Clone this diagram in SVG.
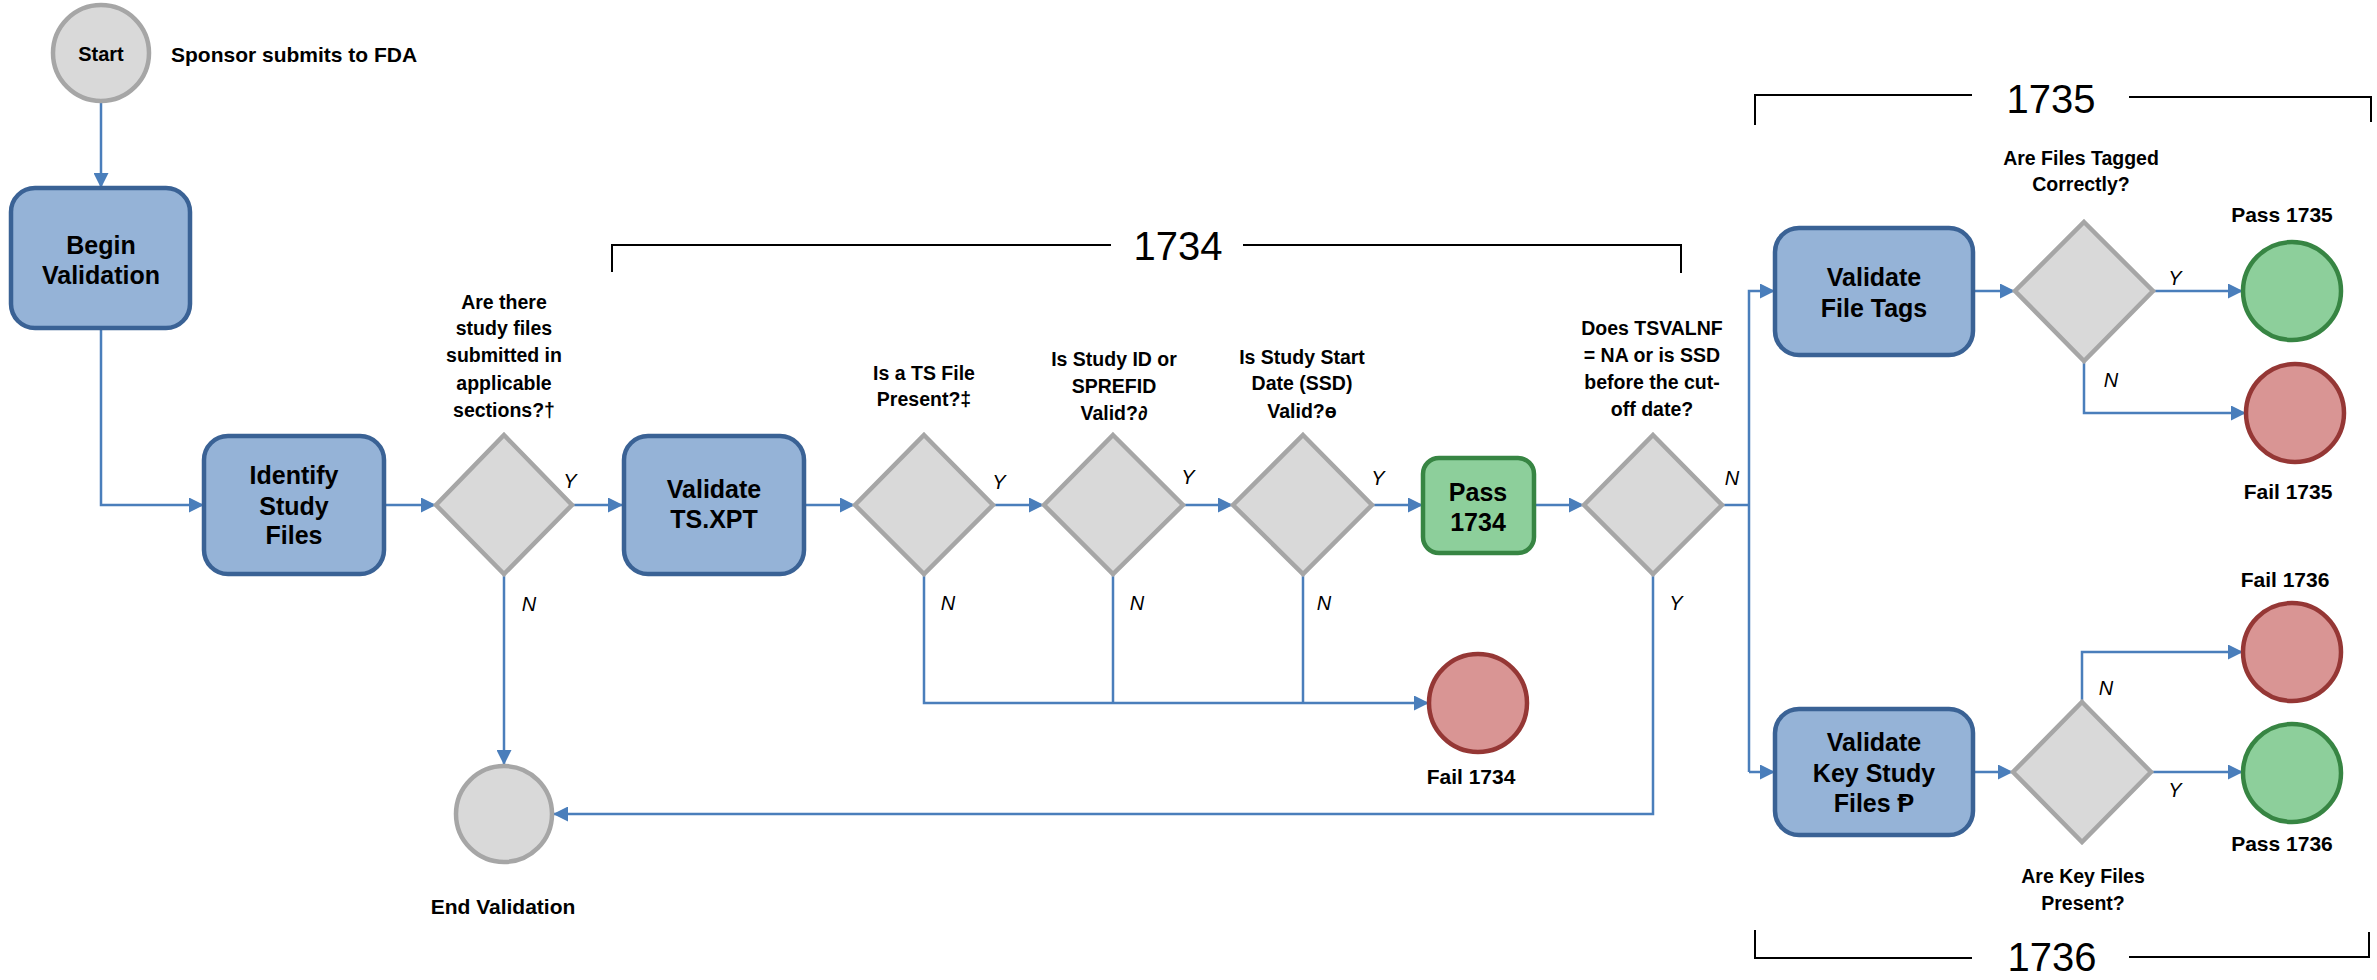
<svg xmlns="http://www.w3.org/2000/svg" width="2377" height="980" viewBox="0 0 2377 980">
<style>
.box{fill:#95b3d7;stroke:#3a6295;stroke-width:4.5}
.pbox{fill:#8dcf9b;stroke:#378543;stroke-width:4.5}
.dia{fill:#d9d9d9;stroke:#a6a6a6;stroke-width:4.5}
.gc{fill:#d9d9d9;stroke:#a6a6a6;stroke-width:4.5}
.rc{fill:#d99594;stroke:#953735;stroke-width:4.5}
.vc{fill:#8dcf9b;stroke:#378543;stroke-width:4.5}
.ln{fill:none;stroke:#4a7ebb;stroke-width:2.5}
.br{fill:none;stroke:#000;stroke-width:2}
.bt{font-family:"Liberation Sans",Arial,sans-serif;font-weight:bold;font-size:25px;fill:#000;text-anchor:middle}
.q{font-family:"Liberation Sans",Arial,sans-serif;font-weight:bold;font-size:19.5px;fill:#000;text-anchor:middle}
.lb{font-family:"Liberation Sans",Arial,sans-serif;font-weight:bold;font-size:21px;fill:#000;text-anchor:middle}
.yn{font-family:"Liberation Sans",Arial,sans-serif;font-style:italic;font-size:20px;fill:#000;text-anchor:middle}
.big{font-family:"Liberation Sans",Arial,sans-serif;font-size:40px;fill:#000;text-anchor:middle}
</style>
<defs>
<marker id="ah" markerUnits="userSpaceOnUse" markerWidth="15" markerHeight="15" refX="15" refY="7.5" orient="auto">
<path d="M0,0 L15,7.5 L0,15 z" fill="#4a7ebb"/>
</marker>
</defs>

<g id="brackets">
<path class="br" d="M612,272 V245 H1111 M1243,245 H1681 V273"/>
<text class="big" x="1178" y="260">1734</text>
<path class="br" d="M1755,125 V95 H1972 M2129,97 H2371 V122"/>
<text class="big" x="2051" y="113">1735</text>
<path class="br" d="M1755,930 V958 H1972 M2129,957 H2369 V932"/>
<text class="big" x="2052" y="971">1736</text>
</g>

<g id="connectors">
<path class="ln" d="M101,102 V188" marker-end="url(#ah)"/>
<path class="ln" d="M101,328 V505 H204" marker-end="url(#ah)"/>
<path class="ln" d="M384,505 H436" marker-end="url(#ah)"/>
<path class="ln" d="M572,505 H623" marker-end="url(#ah)"/>
<path class="ln" d="M504,574 V765" marker-end="url(#ah)"/>
<path class="ln" d="M804,505 H855" marker-end="url(#ah)"/>
<path class="ln" d="M993,505 H1044" marker-end="url(#ah)"/>
<path class="ln" d="M1183,505 H1233" marker-end="url(#ah)"/>
<path class="ln" d="M1372,505 H1423" marker-end="url(#ah)"/>
<path class="ln" d="M1534,505 H1584" marker-end="url(#ah)"/>
<path class="ln" d="M924,574 V703 H1429" marker-end="url(#ah)"/>
<path class="ln" d="M1113,574 V703"/>
<path class="ln" d="M1303,574 V703"/>
<path class="ln" d="M1653,574 V814 H553" marker-end="url(#ah)"/>
<path class="ln" d="M1722,505 H1749"/>
<path class="ln" d="M1749,772 V291 H1775" marker-end="url(#ah)"/>
<path class="ln" d="M1749,772 H1775" marker-end="url(#ah)"/>
<path class="ln" d="M1973,291 H2015" marker-end="url(#ah)"/>
<path class="ln" d="M2153,291 H2243" marker-end="url(#ah)"/>
<path class="ln" d="M2084,361 V413 H2246" marker-end="url(#ah)"/>
<path class="ln" d="M1973,772 H2013" marker-end="url(#ah)"/>
<path class="ln" d="M2151,772 H2243" marker-end="url(#ah)"/>
<path class="ln" d="M2082,702 V652 H2243" marker-end="url(#ah)"/>
<text class="yn" x="570" y="488">Y</text>
<text class="yn" x="529" y="611">N</text>
<text class="yn" x="999" y="489">Y</text>
<text class="yn" x="948" y="610">N</text>
<text class="yn" x="1188" y="484">Y</text>
<text class="yn" x="1137" y="610">N</text>
<text class="yn" x="1378" y="485">Y</text>
<text class="yn" x="1324" y="610">N</text>
<text class="yn" x="1732" y="485">N</text>
<text class="yn" x="1676" y="610">Y</text>
<text class="yn" x="2175" y="285">Y</text>
<text class="yn" x="2111" y="387">N</text>
<text class="yn" x="2106" y="695">N</text>
<text class="yn" x="2175" y="797">Y</text>
</g>

<g id="start">
<ellipse class="gc" cx="101" cy="53" rx="48" ry="48"/>
<text class="lb" x="101" y="61" style="font-size:20px">Start</text>
<text class="lb" x="171" y="62" style="text-anchor:start">Sponsor submits to FDA</text>
</g>

<g id="begin-validation">
<rect class="box" x="11" y="188" width="179" height="140" rx="24"/>
<text class="bt" x="101" y="254">Begin</text>
<text class="bt" x="101" y="284">Validation</text>
</g>

<g id="identify-study-files">
<rect class="box" x="204" y="436" width="180" height="138" rx="24"/>
<text class="bt" x="294" y="484">Identify</text>
<text class="bt" x="294" y="515">Study</text>
<text class="bt" x="294" y="544">Files</text>
</g>

<g id="q-study-files">
<path class="dia" d="M504,435 L572,505 L504,574 L436,505 Z"/>
<text class="q" x="504" y="309">Are there</text>
<text class="q" x="504" y="335">study files</text>
<text class="q" x="504" y="362">submitted in</text>
<text class="q" x="504" y="390">applicable</text>
<text class="q" x="504" y="417">sections?†</text>
</g>

<g id="end-validation">
<ellipse class="gc" cx="504" cy="814" rx="48" ry="48"/>
<text class="lb" x="503" y="914">End Validation</text>
</g>

<g id="validate-ts-xpt">
<rect class="box" x="624" y="436" width="180" height="138" rx="24"/>
<text class="bt" x="714" y="498">Validate</text>
<text class="bt" x="714" y="528">TS.XPT</text>
</g>

<g id="q-ts-file">
<path class="dia" d="M924,435 L993,505 L924,574 L855,505 Z"/>
<text class="q" x="924" y="380">Is a TS File</text>
<text class="q" x="924" y="406">Present?‡</text>
</g>

<g id="q-study-id">
<path class="dia" d="M1113,435 L1183,505 L1113,574 L1044,505 Z"/>
<text class="q" x="1114" y="366">Is Study ID or</text>
<text class="q" x="1114" y="393">SPREFID</text>
<text class="q" x="1114" y="420">Valid?∂</text>
</g>

<g id="q-ssd">
<path class="dia" d="M1303,435 L1372,505 L1303,574 L1233,505 Z"/>
<text class="q" x="1302" y="364">Is Study Start</text>
<text class="q" x="1302" y="390">Date (SSD)</text>
<text class="q" x="1302" y="418">Valid?ɵ</text>
</g>

<g id="pass-1734">
<rect class="pbox" x="1423" y="458" width="111" height="95" rx="16"/>
<text class="bt" x="1478" y="501">Pass</text>
<text class="bt" x="1478" y="531">1734</text>
</g>

<g id="fail-1734">
<ellipse class="rc" cx="1478" cy="703" rx="49" ry="49"/>
<text class="lb" x="1471" y="784">Fail 1734</text>
</g>

<g id="q-tsvalnf">
<path class="dia" d="M1653,435 L1722,505 L1653,574 L1584,505 Z"/>
<text class="q" x="1652" y="335">Does TSVALNF</text>
<text class="q" x="1652" y="362">= NA or is SSD</text>
<text class="q" x="1652" y="389">before the cut-</text>
<text class="q" x="1652" y="416">off date?</text>
</g>

<g id="validate-file-tags">
<rect class="box" x="1775" y="228" width="198" height="127" rx="24"/>
<text class="bt" x="1874" y="286">Validate</text>
<text class="bt" x="1874" y="317">File Tags</text>
</g>

<g id="q-files-tagged">
<path class="dia" d="M2084,222 L2153,291 L2084,361 L2015,291 Z"/>
<text class="q" x="2081" y="165">Are Files Tagged</text>
<text class="q" x="2081" y="191">Correctly?</text>
</g>

<g id="pass-1735">
<ellipse class="vc" cx="2292" cy="291" rx="49" ry="49"/>
<text class="lb" x="2282" y="222">Pass 1735</text>
</g>

<g id="fail-1735">
<ellipse class="rc" cx="2295" cy="413" rx="49" ry="49"/>
<text class="lb" x="2288" y="499">Fail 1735</text>
</g>

<g id="validate-key-study-files">
<rect class="box" x="1775" y="709" width="198" height="126" rx="24"/>
<text class="bt" x="1874" y="751">Validate</text>
<text class="bt" x="1874" y="782">Key Study</text>
<text class="bt" x="1874" y="812">Files Ᵽ</text>
</g>

<g id="q-key-files">
<path class="dia" d="M2082,702 L2151,772 L2082,842 L2013,772 Z"/>
<text class="q" x="2083" y="883">Are Key Files</text>
<text class="q" x="2083" y="910">Present?</text>
</g>

<g id="fail-1736">
<ellipse class="rc" cx="2292" cy="652" rx="49" ry="49"/>
<text class="lb" x="2285" y="587">Fail 1736</text>
</g>

<g id="pass-1736">
<ellipse class="vc" cx="2292" cy="773" rx="49" ry="49"/>
<text class="lb" x="2282" y="851">Pass 1736</text>
</g>
</svg>
